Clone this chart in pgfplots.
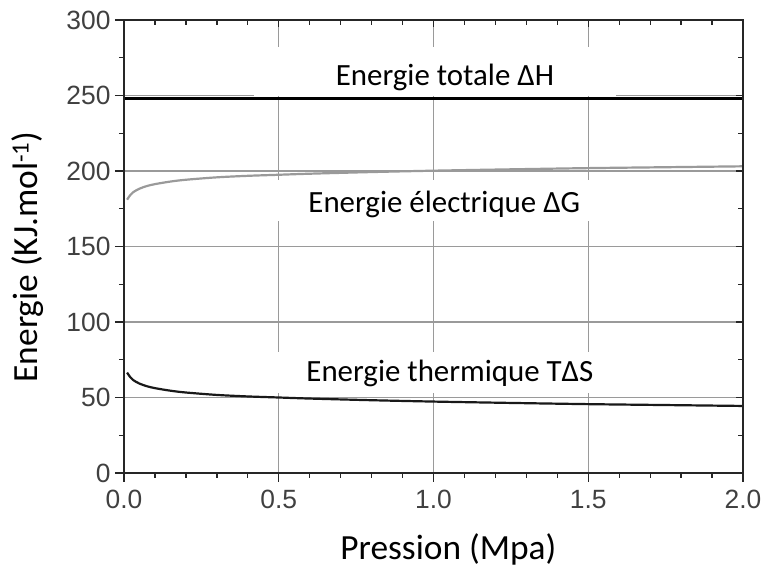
\documentclass[border=0pt]{standalone}
\usepackage{fontspec}
\setmainfont{Carlito}
\newfontfamily\arialfont{Liberation Sans}
\usepackage{pgfplots}
\pgfplotsset{compat=1.18}
\definecolor{tickgray}{HTML}{404040}
\definecolor{gridgray}{HTML}{9A9A9A}
\definecolor{dgcol}{HTML}{9A9A9A}
\begin{document}
\begin{tikzpicture}[x=1bp,y=1bp]
\path[use as bounding box] (-124,-94) rectangle (639,473);
\begin{axis}[
  scale only axis, width=619bp, height=453bp,
  xmin=0, xmax=2, ymin=0, ymax=300,
  xtick={0,0.5,1,1.5,2}, ytick={0,50,100,150,200,250,300},
  minor x tick num=4, minor y tick num=1,
  xtick pos=left, ytick pos=left,
  tick align=outside,
  major tick length=9bp, minor tick length=5bp,
  /pgf/number format/assume math mode=true,
  xticklabel={\pgfmathprintnumber[fixed,fixed zerofill,precision=1]{\tick}},
  yticklabel={\pgfmathprintnumber[fixed,precision=0]{\tick}},
  xticklabel style={font=\arialfont\fontsize{26.5}{27}\selectfont, text=tickgray, yshift=-5bp},
  yticklabel style={font=\arialfont\fontsize{26.5}{27}\selectfont, text=tickgray, xshift=-1bp},
  grid=major, major grid style={gridgray, line width=1.3bp},
  axis line style={line width=1.6bp, black!85},
  tick style={line width=1.3bp, black!85},
  xlabel={Pression (Mpa)},
  xlabel style={font=\fontsize{35.5}{36}\selectfont, at={(axis description cs:0.524,-0.19)}, anchor=base},
  ylabel={Energie (KJ.mol\textsuperscript{-1})},
  ylabel style={font=\fontsize{35.5}{36}\selectfont, at={(axis description cs:-0.1397,0.477)}, anchor=base},
]
\fill[white] (axis cs:0.42,249.9) rectangle (axis cs:1.59,282);
\fill[white] (axis cs:0.42,167) rectangle (axis cs:1.59,194);
\fill[white] (axis cs:0.42,53.3) rectangle (axis cs:1.59,80);
\addplot[black, line width=3bp] coordinates {(0,248) (2,248)};
\addplot[dgcol, line width=2.2bp, smooth] coordinates {
(0.01,181) (0.02,184) (0.03,186) (0.05,188.3) (0.075,190.1) (0.1,191.3)
(0.15,193) (0.2,194.2) (0.3,195.8) (0.4,196.8) (0.5,197.5) (0.6,198.2)
(0.8,199.3) (1.0,200.2) (1.25,201.1) (1.5,201.9) (1.75,202.5) (2.0,203.1)};
\addplot[black!90, line width=2.2bp, smooth] coordinates {
(0.01,66.5) (0.02,63.5) (0.03,61.5) (0.05,59.2) (0.075,57.4) (0.1,56.2)
(0.15,54.5) (0.2,53.3) (0.3,51.7) (0.4,50.7) (0.5,50.0) (0.6,49.3)
(0.8,48.2) (1.0,47.3) (1.25,46.4) (1.5,45.6) (1.75,45.0) (2.0,44.4)};
\node[anchor=base, font=\fontsize{31}{31}\selectfont] at (axis cs:1.037,256.3) {Energie totale ΔH};
\node[anchor=base, font=\fontsize{31}{31}\selectfont] at (axis cs:1.035,172.8) {Energie électrique ΔG};
\node[anchor=base, font=\fontsize{31}{31}\selectfont] at (axis cs:1.053,60.3) {Energie thermique TΔS};
\end{axis}
\begin{axis}[
  scale only axis, width=619bp, height=453bp,
  xmin=0, xmax=2, ymin=0, ymax=300,
  xtick={0,0.5,1,1.5,2}, ytick={0,50,100,150,200,250,300},
  minor x tick num=4, minor y tick num=1,
  xtick pos=right, ytick pos=right,
  tick align=inside,
  major tick length=7bp, minor tick length=5bp,
  xticklabels={}, yticklabels={},
  axis line style={line width=1.6bp, black!85},
  tick style={line width=1.3bp, black!85},
]
\end{axis}
\end{tikzpicture}
\end{document}
